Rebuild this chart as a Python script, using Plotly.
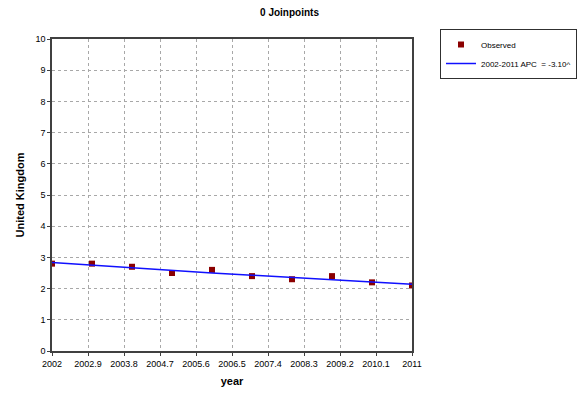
import plotly.graph_objects as go

years = [2002, 2003, 2004, 2005, 2006, 2007, 2008, 2009, 2010, 2011]
observed = [2.8, 2.8, 2.7, 2.5, 2.6, 2.4, 2.3, 2.4, 2.2, 2.1]
fitted = [2.84, 2.75, 2.67, 2.58, 2.50, 2.43, 2.35, 2.28, 2.21, 2.14]
x_ticks = [2002, 2002.9, 2003.8, 2004.7, 2005.6, 2006.5, 2007.4, 2008.3, 2009.2, 2010.1, 2011]
x_tick_labels = ["2002", "2002.9", "2003.8", "2004.7", "2005.6", "2006.5", "2007.4", "2008.3", "2009.2", "2010.1", "2011"]
y_ticks = list(range(0, 11))

font = "Liberation Sans, Arial, sans-serif"

fig = go.Figure()
fig.add_trace(go.Scatter(
    x=years, y=observed, mode="markers", name="Observed",
    marker=dict(symbol="square", size=6, color="#8B0000"),
))
fig.add_trace(go.Scatter(
    x=years, y=fitted, mode="lines", name="2002-2011 APC  = -3.10^",
    line=dict(color="#1010FF", width=1.5),
))

axis_common = dict(
    showgrid=True, gridcolor="#A8A8A8", griddash="dot", gridwidth=1,
    showline=True, linecolor="#404040", linewidth=1.5, mirror=True,
    zeroline=False, ticks="outside", ticklen=3, tickcolor="#404040",
    tickfont=dict(family=font, size=9, color="#000000"),
    automargin=False,
)

fig.update_layout(
    width=579, height=394,
    margin=dict(l=52, r=167, t=39, b=43),
    paper_bgcolor="white", plot_bgcolor="white",
    title=dict(text="<b>0 Joinpoints</b>", x=0.5, xref="container", xanchor="center",
               y=1 - 12 / 394, yref="container", yanchor="middle",
               font=dict(family=font, size=10, color="#000000")),
    xaxis=dict(range=[2002, 2011], tickvals=x_ticks, ticktext=x_tick_labels, tickangle=0,
               title=dict(text="<b>year</b>", font=dict(family=font, size=11, color="#000"), standoff=10),
               **axis_common),
    yaxis=dict(range=[0, 10], tickvals=y_ticks,
               title=dict(text="<b>United Kingdom</b>", font=dict(family=font, size=11, color="#000"), standoff=9),
               **axis_common),
    legend=dict(xref="container", yref="container",
                x=577 / 579, y=1 - 29 / 394, xanchor="right", yanchor="top",
                bordercolor="#303030", borderwidth=1, bgcolor="white",
                font=dict(family=font, size=8, color="#000"),
                tracegroupgap=0, itemwidth=30),
    showlegend=True,
)

fig.write_html("out.html", config={"displayModeBar": False},
               post_script="document.body.style.margin='0px';document.body.style.overflow='hidden';")
